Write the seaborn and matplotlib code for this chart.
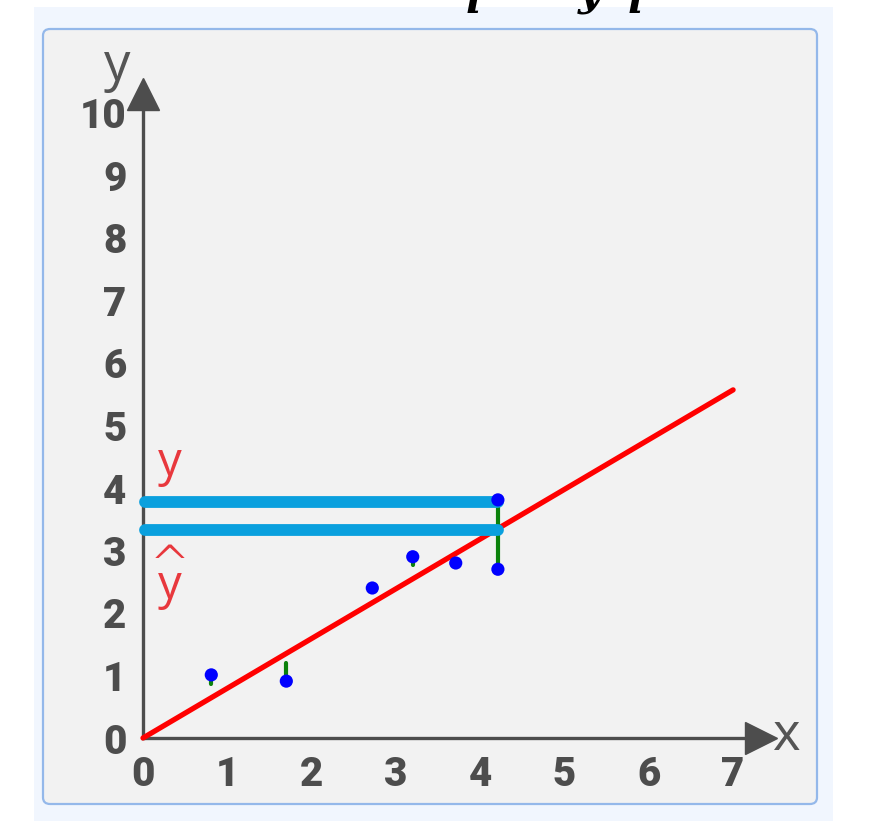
import numpy as np
import pandas as pd
import matplotlib
matplotlib.use("Agg")
import matplotlib.pyplot as plt
import seaborn as sns
from matplotlib.patches import Rectangle, FancyBboxPatch

# data
x_pts = [0.81, 1.70, 2.72, 3.20, 3.71, 4.21, 4.21]
y_pts = [1.01, 0.91, 2.40, 2.90, 2.80, 3.81, 2.70]
# where each green residual segment ends
y_res_end = [0.86, 1.20, 2.40, 2.77, 2.80, 3.35, 3.35]
line_x = [0, 7]
line_y = [0, 5.57]
y_level = 3.78      # actual y
yhat_level = 3.33   # predicted y-hat
x_level = 4.21
x_ticks = list(range(0, 8))
y_ticks = list(range(0, 11))

W, H = 889, 821
sns.set_style("white")
plt.rcParams["font.family"] = ["Roboto", "DejaVu Sans"]

fig = plt.figure(figsize=(W / 100, H / 100), dpi=100)
fig.patch.set_facecolor("white")

def fx(px):
    return px / W

def fy(py):
    return 1 - py / H

# outer light blue area and rounded gray panel (behind the axes)
fig.patches.append(Rectangle((fx(34), fy(821)), fx(833) - fx(34), fy(7) - fy(821),
                             transform=fig.transFigure, facecolor="#f1f6fe",
                             edgecolor="none", zorder=-3))
fig.patches.append(FancyBboxPatch((fx(43), fy(804)), fx(817) - fx(43), fy(29) - fy(804),
                                  boxstyle="round,pad=0,rounding_size=0.008",
                                  transform=fig.transFigure, facecolor="#f2f2f2",
                                  edgecolor="#94b8ea", linewidth=1.6, zorder=-2))

# cropped formula at the very top
for px, py, s in [(474, 13, "i"), (590, 4, "y"), (636, 13, "i")]:
    fig.text(fx(px), fy(py), s, fontsize=30, style="italic", weight="bold",
             family="DejaVu Serif", color="black", ha="center", va="baseline")

# axes covering the panel; pixel mapping: x0=143, 84.3 px/unit; y0=738, 62.5 px/unit
ax = fig.add_axes([fx(42), fy(805), fx(818) - fx(42), fy(28) - fy(805)])
ax.set_facecolor("none")
ax.set_xlim((42 - 143) / 84.3, (818 - 143) / 84.3)
ax.set_ylim((738 - 805) / 62.5, (738 - 28) / 62.5)

axis_col = "#4d4d4d"
for side in ["top", "right"]:
    ax.spines[side].set_visible(False)
ax.spines["left"].set_position(("data", 0))
ax.spines["bottom"].set_position(("data", 0))
ax.spines["left"].set_bounds(0, 10.3)
ax.spines["bottom"].set_bounds(0, 7.33)
for side in ["left", "bottom"]:
    ax.spines[side].set_color(axis_col)
    ax.spines[side].set_linewidth(2.4)

ax.set_xticks(x_ticks)
ax.set_yticks(y_ticks)
ax.tick_params(axis="both", direction="out", length=7, width=2.2, color=axis_col,
               labelcolor=axis_col, labelsize=29, pad=5)
for lab in ax.get_xticklabels() + ax.get_yticklabels():
    lab.set_fontweight("heavy")

# arrow heads
ax.plot([0], [10.3], marker="^", markersize=23, color=axis_col, clip_on=False)
ax.plot([7.33], [0], marker=">", markersize=23, color=axis_col, clip_on=False)
ax.text(-0.31, 10.75, "y", fontsize=38, color="#555555", ha="center", va="center",
        family="Open Sans")
ax.text(7.64, 0.02, "x", fontsize=38, color="#555555", ha="center", va="center",
        family="Open Sans")

# regression line
sns.lineplot(x=line_x, y=line_y, color="#ff0000", linewidth=3.8, ax=ax, zorder=3)

# residuals
for xi, yi, ye in zip(x_pts, y_pts, y_res_end):
    ax.plot([xi, xi], [yi, ye], color="#0b820b", linewidth=3.0, zorder=4)

# y and y-hat levels
ax.plot([0.02, x_level], [y_level, y_level], color="#0aa0de", linewidth=8.5,
        solid_capstyle="round", zorder=5)
ax.plot([0.02, x_level], [yhat_level, yhat_level], color="#0aa0de", linewidth=8.5,
        solid_capstyle="round", zorder=5)

df = pd.DataFrame({"x": x_pts, "y": y_pts})
sns.scatterplot(data=df, x="x", y="y", color="#0000ff", s=90, edgecolor="none",
                ax=ax, zorder=6)

red = "#e8383d"
ax.text(0.32, 4.4, "y", fontsize=34, color=red, ha="center", va="center",
        family="Open Sans")
ax.text(0.32, 2.74, "^", fontsize=36, color=red, ha="center", va="center",
        family="DejaVu Sans", weight="light")
ax.text(0.32, 2.42, "y", fontsize=34, color=red, ha="center", va="center",
        family="Open Sans")

ax.set_xlabel("")
ax.set_ylabel("")

fig.savefig("out.png", dpi=100)
